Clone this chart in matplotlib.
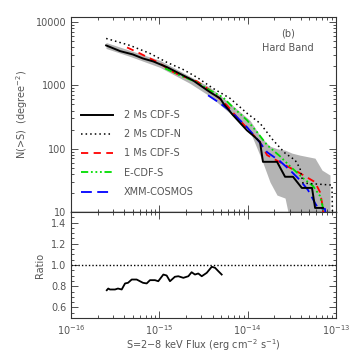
import matplotlib
matplotlib.use("Agg")
import matplotlib.pyplot as plt
from matplotlib.ticker import LogLocator, MultipleLocator, FixedLocator, NullFormatter, FixedFormatter
import numpy as np

# ---- data ----
cdfs2_S = [2.5e-16, 3.6e-16, 5.0e-16, 6.5e-16, 8.5e-16, 1.22e-15, 1.7e-15, 2.4e-15, 3.75e-15,
           4.9e-15, 5.3e-15, 6.8e-15, 9.8e-15, 1.21e-14, 1.38e-14, 1.49e-14, 2.15e-14, 2.65e-14,
           3.26e-14, 4.1e-14, 5.35e-14, 5.8e-14, 7.1e-14]
cdfs2_N = [4270, 3470, 3080, 2660, 2390, 1940, 1530, 1200, 780, 620, 520, 340, 195, 152, 127,
           62, 62, 36, 36, 24, 24, 11.6, 11.6]

cdfn2_S = [2.5e-16, 4.66e-16, 7.83e-16, 1.22e-15, 1.85e-15, 2.67e-15, 4.05e-15, 6.31e-15, 9.84e-15,
           1.38e-14, 1.94e-14, 2.65e-14, 3.44e-14, 3.91e-14, 4.23e-14, 9.0e-14, 9.2e-14]
cdfn2_N = [5500, 4265, 3190, 2303, 1786, 1337, 897, 624, 362, 252, 136, 85, 66, 49, 28.6, 26.6, 5]

cdfs1_S = [4.31e-16, 6.04e-16, 7.83e-16, 1.02e-15, 1.32e-15, 1.71e-15, 2.67e-15, 3.75e-15, 5.83e-15,
           7.57e-15, 1.06e-14, 1.38e-14, 1.66e-14, 2.79e-14, 3.91e-14, 5.78e-14, 6.59e-14, 7.13e-14, 7.31e-14]
cdfs1_N = [3966, 3190, 2662, 2220, 1722, 1437, 1156, 834, 484, 313, 189, 127, 79, 53, 41, 29.7,
           20.6, 11.6, 5]

ecdfs_S = [1.16e-15, 1.71e-15, 2.67e-15, 3.75e-15, 5.26e-15, 6.82e-15, 9.84e-15, 1.28e-14, 1.66e-14,
           2.32e-14, 3.01e-14, 4.23e-14, 5.49e-14, 6.59e-14, 7.13e-14, 7.5e-14]
ecdfs_N = [1853, 1437, 1115, 834, 647, 450, 281, 182, 114, 76, 53, 34.3, 25.7, 17.9, 11.6, 5]

xmm_S = [3.56e-15, 4.87e-15, 6.82e-15, 9.84e-15, 1.31e-14, 1.66e-14, 2.32e-14, 3.01e-14, 3.91e-14,
         4.82e-14, 5.78e-14, 6.25e-14, 7.51e-14, 7.9e-14]
xmm_N = [696, 521, 362, 218, 136, 88, 63.5, 45.8, 31.9, 22.2, 13.9, 11.6, 11.2, 5]

band_S = [2.49e-16, 4.66e-16, 1.02e-15, 2.22e-15, 3.75e-15, 6.31e-15, 1.06e-14, 1.45e-14, 1.79e-14,
          2.15e-14, 2.65e-14, 3.18e-14, 3.91e-14, 5.78e-14, 6.95e-14, 8.55e-14]
band_hi = [4755, 3558, 2476, 1386, 930, 521, 281, 146, 109, 100, 94.7, 85, 79, 70.8, 45.8, 38.3]
band_lo = [3828, 2862, 1920, 1075, 671, 362, 189, 66, 29.7, 18.5, 16.6, 5, 5, 5, 5, 5]

ratio_S = [2.54e-16, 2.64e-16, 2.76e-16, 3.15e-16, 3.40e-16, 3.75e-16, 4.09e-16, 4.42e-16, 4.87e-16,
           5.54e-16, 6.53e-16, 7.19e-16, 7.84e-16, 8.93e-16, 9.73e-16, 1.11e-15, 1.21e-15, 1.32e-15,
           1.50e-15, 1.64e-15, 1.87e-15, 2.13e-15, 2.32e-15, 2.53e-15, 2.76e-15, 3.02e-15, 3.44e-15,
           3.92e-15, 4.27e-15, 4.65e-15, 5.08e-15]
ratio_R = [0.762, 0.778, 0.769, 0.769, 0.778, 0.769, 0.826, 0.832, 0.863, 0.863, 0.832, 0.826, 0.857,
           0.857, 0.847, 0.910, 0.901, 0.847, 0.889, 0.894, 0.879, 0.894, 0.932, 0.910, 0.920, 0.894,
           0.926, 0.983, 0.974, 0.942, 0.910]

labels = ["2 Ms CDF-S", "2 Ms CDF-N", "1 Ms CDF-S", "E-CDF-S", "XMM-COSMOS"]
x_ticks = [1e-16, 1e-15, 1e-14, 1e-13]
x_tick_labels = ["$10^{-16}$", "$10^{-15}$", "$10^{-14}$", "$10^{-13}$"]
y_ticks = [10, 100, 1000, 10000]
y_tick_labels = ["10", "100", "1000", "10000"]
r_ticks = [0.6, 0.8, 1.0, 1.2, 1.4]

# ---- style ----
TXT = "#555555"
FS = 7
plt.rcParams['font.family'] = ['DejaVu Sans']
plt.rcParams['font.size'] = FS

fig = plt.figure(figsize=(3.54, 3.54), dpi=100)
ax1 = fig.add_axes([71/354, 1-212/354, 265/354, 195/354])
ax2 = fig.add_axes([71/354, 1-318/354, 265/354, 106/354], sharex=ax1)

ax1.fill_between(band_S, band_lo, band_hi, color="#b4b4b4", lw=0, zorder=1)
l1, = ax1.plot(cdfs2_S, cdfs2_N, color="black", lw=1.4, zorder=5)
l2, = ax1.plot(cdfn2_S, cdfn2_N, color="black", lw=1.1, ls=(0, (1, 2)), zorder=4)
l3, = ax1.plot(cdfs1_S, cdfs1_N, color="#ff0000", lw=1.3, ls=(0, (4, 3)), zorder=3)
l4, = ax1.plot(ecdfs_S, ecdfs_N, color="#00dd00", lw=1.3, ls=(0, (4, 1.5, 1, 1.5, 1, 1.5, 1, 1.5)), zorder=3)
l5, = ax1.plot(xmm_S, xmm_N, color="#0000ff", lw=1.3, ls=(0, (6, 3)), zorder=3)

ax1.set_xscale("log")
ax1.set_yscale("log")
ax1.set_xlim(1e-16, 1e-13)
ax1.set_ylim(10, 12000)

ax1.legend([l1, l2, l3, l4, l5], labels, loc="center left", bbox_to_anchor=(0.0377, 0.30),
           frameon=False, borderpad=0, borderaxespad=0, handlelength=3.3, handletextpad=1.1,
           labelspacing=0.95, fontsize=FS, labelcolor=TXT)

ax1.text(0.82, 0.913, "(b)", transform=ax1.transAxes, ha="center", va="center", fontsize=FS, color=TXT)
ax1.text(0.82, 0.841, "Hard Band", transform=ax1.transAxes, ha="center", va="center", fontsize=FS, color=TXT)

ax1.set_ylabel("N(>S)  (degree$^{-2}$)", color=TXT, fontsize=FS, labelpad=4)

ax2.plot(ratio_S, ratio_R, color="black", lw=1.3)
ax2.axhline(1.0, color="black", lw=1.0, ls=(0, (1, 1.5)))
ax2.set_ylim(0.5, 1.5)
ax2.yaxis.set_major_locator(FixedLocator(r_ticks))
ax2.yaxis.set_minor_locator(MultipleLocator(0.05))
ax2.set_ylabel("Ratio", color=TXT, fontsize=FS, labelpad=4)
fig.text((71 + 265/2)/354, 9/354, "S=2\u22128 keV Flux (erg cm$^{-2}$ s$^{-1}$)",
         ha="center", va="center", color=TXT, fontsize=FS)

ax2.xaxis.set_major_locator(FixedLocator(x_ticks))
ax2.xaxis.set_major_formatter(FixedFormatter(x_tick_labels))
ax2.xaxis.set_minor_locator(LogLocator(base=10, subs=np.arange(2, 10), numticks=10))
ax2.xaxis.set_minor_formatter(NullFormatter())

ax1.yaxis.set_major_locator(FixedLocator(y_ticks))
ax1.yaxis.set_major_formatter(FixedFormatter(y_tick_labels))
ax1.yaxis.set_minor_locator(LogLocator(base=10, subs=np.arange(2, 10), numticks=10))
ax1.yaxis.set_minor_formatter(NullFormatter())

for ax in (ax1, ax2):
    ax.tick_params(which="both", direction="in", top=True, right=True, colors="#333333",
                   labelcolor=TXT, labelsize=FS, width=0.6)
    ax.tick_params(which="major", length=5)
    ax.tick_params(which="minor", length=2.5)
    for s in ax.spines.values():
        s.set_linewidth(0.8)
        s.set_color("#333333")
ax1.tick_params(axis="x", which="both", labelbottom=False)
ax2.tick_params(axis="x", which="major", pad=4)
ax1.spines["bottom"].set_color("black")
ax1.spines["bottom"].set_linewidth(1.0)

fig.savefig("out.png", dpi=100)
